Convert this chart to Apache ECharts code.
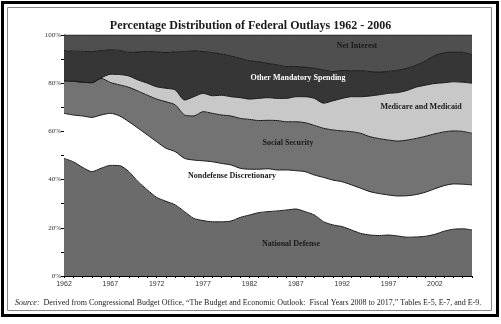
<!DOCTYPE html>
<html><head><meta charset="utf-8">
<script src="https://cdn.jsdelivr.net/npm/echarts@6/dist/echarts.min.js"></script>
<style>html,body{margin:0;padding:0;background:#fff}#c{width:501px;height:324px}</style>
</head><body><div id="c"></div>
<script>
const years = ['1962','1963','1964','1965','1966','1967','1968','1969','1970','1971','1972','1973','1974','1975','1976','1977','1978','1979','1980','1981','1982','1983','1984','1985','1986','1987','1988','1989','1990','1991','1992','1993','1994','1995','1996','1997','1998','1999','2000','2001','2002','2003','2004','2005','2006'];
const nationalDefense = [48.8,47.4,45.1,43.3,44.7,45.9,45.8,43.3,39.1,35.7,32.6,31.0,29.5,26.7,23.9,23.0,22.5,22.5,22.8,24.3,25.3,26.3,26.7,27.0,27.4,27.8,26.7,25.3,22.5,21.2,20.5,19.1,17.7,17.0,16.8,17.0,16.6,16.1,16.2,16.5,17.3,18.6,19.4,19.6,19.1];
const nondefenseDiscretionary = [18.7,19.4,21.3,22.5,22.1,21.6,20.6,20.7,22.2,22.8,23.1,22.0,22.1,22.1,24.2,24.8,24.9,24.2,23.3,20.4,19.0,18.0,17.8,17.0,16.6,15.9,16.6,16.6,18.4,18.6,18.6,18.7,18.7,18.0,17.4,16.6,16.6,17.2,17.6,18.3,18.9,18.9,18.8,18.5,18.7];
const socialSecurity = [13.5,14.0,14.0,14.4,15.2,12.8,12.9,14.3,15.4,16.5,17.7,19.3,19.4,18.0,18.3,20.4,20.1,20.1,20.3,20.7,20.7,20.2,20.1,20.5,20.0,20.3,20.3,20.6,20.4,20.8,21.1,22.1,22.8,22.8,22.8,22.8,22.8,23.1,23.3,23.2,22.8,22.3,22.0,21.9,21.4];
const medicareMedicaid = [0,0,0,0,0.2,3.4,4.3,4.7,4.6,5.0,5.1,5.6,6.2,6.2,8.0,7.6,7.3,8.2,8.0,8.6,8.4,9.2,9.4,9.2,9.7,10.4,10.8,11.2,10.4,12.1,13.5,14.5,15.2,16.9,18.2,19.4,20.1,20.6,21.3,21.2,20.9,20.4,20.4,20.4,20.8];
const otherMandatory = [12.5,12.5,12.8,12.9,11.3,10.1,10.0,9.8,11.6,13.2,14.5,14.8,15.8,20.1,19.0,17.3,17.9,17.1,16.9,16.3,15.9,15.2,14.2,13.9,13.2,12.5,12.2,12.5,13.8,12.1,11.6,10.8,10.8,10.1,9.4,9.1,9.3,9.2,9.1,10.1,11.6,12.4,12.4,12.4,12.0];
const netInterest = [6.5,6.7,6.8,6.9,6.5,6.2,6.4,7.2,7.1,6.8,7.0,7.3,7.0,6.9,6.6,6.9,7.3,7.9,8.7,9.7,10.7,11.1,11.8,12.4,13.1,13.1,13.4,13.8,14.5,15.2,14.7,14.8,14.8,15.2,15.4,15.1,14.6,13.8,12.5,10.7,8.5,7.4,7.0,7.2,8.0];
const yTicks = [0,20,40,60,80,100];

const seriesDefs = [
  {name:'National Defense', data:nationalDefense, color:'#6b6b6b'},
  {name:'Nondefense Discretionary', data:nondefenseDiscretionary, color:'#ffffff'},
  {name:'Social Security', data:socialSecurity, color:'#737373'},
  {name:'Medicare and Medicaid', data:medicareMedicaid, color:'#c8c8c8'},
  {name:'Other Mandatory Spending', data:otherMandatory, color:'#363636'},
  {name:'Net Interest', data:netInterest, color:'#4f4f4f'}
];

const chart = echarts.init(document.getElementById('c'), null, {renderer:'canvas'});
const serif = '"Liberation Serif","DejaVu Serif",serif';
const lbl = (txt, x, y, col) => ({type:'text', x:x, y:y, style:{text:txt, fill:col, font:'bold 8px ' + serif, align:'center', verticalAlign:'middle'}, z:100});

chart.setOption({
  animation:false,
  backgroundColor:'#fff',
  title:{text:'Percentage Distribution of Federal Outlays 1962 - 2006', left:'center', top:15,
    textStyle:{fontFamily:serif, fontWeight:'bold', fontSize:12, color:'#1a1a1a'}},
  grid:{left:64, right:29, top:35, bottom:48, containLabel:false},
  xAxis:{type:'category', data:years, boundaryGap:false,
    axisLine:{lineStyle:{color:'#000', width:1}},
    axisTick:{show:true, interval:0, length:2, lineStyle:{color:'#000'}},
    axisLabel:{interval:4, fontSize:7, fontFamily:'"Liberation Sans",Arial,sans-serif', color:'#333', margin:5}},
  yAxis:{type:'value', min:0, max:100, interval:20,
    axisLine:{show:true, lineStyle:{color:'#000', width:1}},
    axisTick:{show:true, length:3, lineStyle:{color:'#000'}},
    minorTick:{show:true, splitNumber:2, length:3, lineStyle:{color:'#000'}},
    splitLine:{show:false},
    axisLabel:{formatter: v => yTicks.includes(v) ? v + '%' : '', fontSize:7, fontFamily:serif, color:'#333', margin:3}},
  series: seriesDefs.map(s => ({
    name:s.name, type:'line', stack:'total', data:s.data, showSymbol:false, symbol:'none',
    smooth:0.25,
    lineStyle:{color:'#1a1a1a', width:1},
    areaStyle:{color:s.color, opacity:1}
  })),
  graphic:[
    {type:'rect', shape:{x:2.5, y:2.5, width:495, height:313}, style:{fill:null, stroke:'#000', lineWidth:3}, z:200},
    {type:'rect', shape:{x:7.5, y:7.5, width:484, height:303}, style:{fill:null, stroke:'#888', lineWidth:1}, z:200},
    lbl('Net Interest', 357, 46, '#1a1a1a'),
    lbl('Other Mandatory Spending', 298, 78, '#ffffff'),
    lbl('Medicare and Medicaid', 421, 107, '#1a1a1a'),
    lbl('Social Security', 288, 143, '#1a1a1a'),
    lbl('Nondefense Discretionary', 232, 176, '#1a1a1a'),
    lbl('National Defense', 291, 244, '#1a1a1a'),
    {type:'text', x:15, y:303, z:100, style:{
      rich:{i:{font:'italic 8px ' + serif, fill:'#222'}, n:{font:'8px ' + serif, fill:'#222'}},
      verticalAlign:'middle',
      text:'{i|Source:}{n|  Derived from Congressional Budget Office, \u201cThe Budget and Economic Outlook:  Fiscal Years 2008 to 2017,\u201d Tables E-5, E-7, and E-9.}'}}
  ]
});
</script></body></html>
